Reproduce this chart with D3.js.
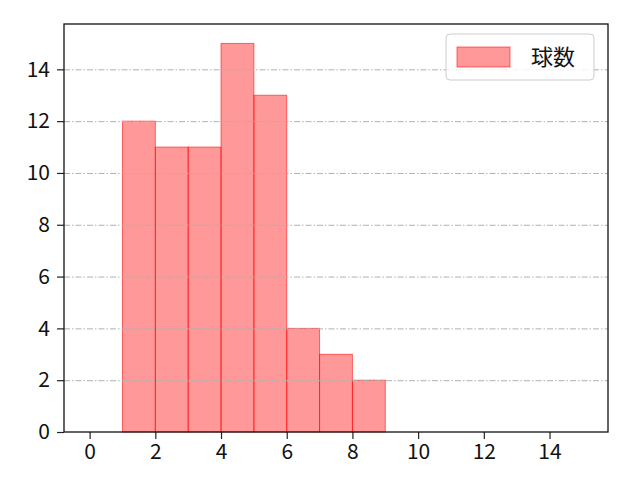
<!DOCTYPE html>
<html>
<head>
<meta charset="utf-8">
<script src="https://cdn.jsdelivr.net/npm/d3@7"></script>
<style>
  body { margin: 0; background: #fff; }
  svg { display: block; font-family: "Noto Sans CJK JP", "DejaVu Sans", sans-serif; }
</style>
</head>
<body>
<div id="chart"></div>
<script>
// === chart data ===
const binStarts = [1, 2, 3, 4, 5, 6, 7, 8];
const binCounts = [12, 11, 11, 15, 13, 4, 3, 2];
const binWidth = 1;
const xTicks = [0, 2, 4, 6, 8, 10, 12, 14];
const yTicks = [0, 2, 4, 6, 8, 10, 12, 14];
const seriesName = "球数";

const width = 640, height = 480;
const margin = { top: 24, right: 32, bottom: 48, left: 64 };

const svg = d3.select("#chart").append("svg")
  .attr("width", width).attr("height", height);

const x = d3.scaleLinear().domain([-0.78, 15.78]).range([margin.left, width - margin.right]);
const y = d3.scaleLinear().domain([0, 15.75]).range([height - margin.bottom, margin.top]);

const bars = binStarts.map((s, i) => ({ x0: s, x1: s + binWidth, v: binCounts[i] }));

// bars
svg.append("g").selectAll("rect").data(bars).enter().append("rect")
  .attr("x", d => x(d.x0))
  .attr("width", d => x(d.x1) - x(d.x0))
  .attr("y", d => y(d.v))
  .attr("height", d => y(0) - y(d.v))
  .attr("fill", "rgba(255,0,0,0.4)")
  .attr("stroke", "rgba(255,0,0,0.55)")
  .attr("stroke-width", 1);

// horizontal grid (drawn on top like the reference)
svg.append("g").selectAll("line").data(yTicks.filter(t => t > 0)).enter().append("line")
  .attr("x1", margin.left).attr("x2", width - margin.right)
  .attr("y1", d => y(d) + 0.5).attr("y2", d => y(d) + 0.5)
  .attr("stroke", "#b0b0b0").attr("stroke-width", 1)
  .attr("stroke-dasharray", "6,2,1.5,2");

// axes
const xAxis = d3.axisBottom(x).tickValues(xTicks).tickSize(7).tickPadding(5);
const yAxis = d3.axisLeft(y).tickValues(yTicks).tickSize(7).tickPadding(7);

const gx = svg.append("g").attr("transform", `translate(0,${height - margin.bottom})`).call(xAxis);
const gy = svg.append("g").attr("transform", `translate(${margin.left},0)`).call(yAxis);
[gx, gy].forEach(g => {
  g.select(".domain").remove();
  g.selectAll(".tick line").attr("stroke", "#222").attr("stroke-width", 1.2);
  g.selectAll("text").attr("fill", "#111").style("font-size", "21px")
    .style("font-family", "'Noto Sans CJK JP', 'DejaVu Sans', sans-serif");
});

// frame
svg.append("rect")
  .attr("x", margin.left).attr("y", margin.top)
  .attr("width", width - margin.left - margin.right)
  .attr("height", height - margin.top - margin.bottom)
  .attr("fill", "none").attr("stroke", "#111").attr("stroke-width", 1.3);

// legend
const lg = svg.append("g").attr("transform", `translate(${width - margin.right - 162},${margin.top + 10})`);
lg.append("rect").attr("width", 148).attr("height", 46).attr("rx", 4)
  .attr("fill", "rgba(255,255,255,0.8)").attr("stroke", "#ccc");
lg.append("rect").attr("x", 11).attr("y", 13).attr("width", 53).attr("height", 20)
  .attr("fill", "rgba(255,0,0,0.4)").attr("stroke", "rgba(255,0,0,0.55)");
lg.append("text").attr("x", 85).attr("y", 23).attr("dy", "0.35em")
  .style("font-size", "22px").attr("fill", "#111").text(seriesName);
</script>
</body>
</html>
